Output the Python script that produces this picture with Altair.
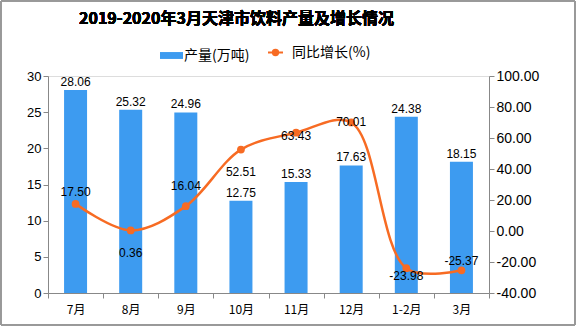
import altair as alt
import pandas as pd

months = ["7月", "8月", "9月", "10月", "11月", "12月", "1-2月", "3月"]
output = [28.06, 25.32, 24.96, 12.75, 15.33, 17.63, 24.38, 18.15]
growth = [17.50, 0.36, 16.04, 52.51, 63.43, 70.01, -23.98, -25.37]
# pixel offset of each growth label relative to its point (styling only)
growth_label_offset = [-12, 23, -20, 22, 3, 0, 8, -9]

PLOT_H = 217
R_MIN, R_MAX = -40, 100

df = pd.DataFrame({
    "month": months,
    "output": output,
    "growth": growth,
    "goff": growth_label_offset,
    "s1": "产量(万吨)",
    "s2": "同比增长(%)",
})

BLUE = "#3D9BF0"
ORANGE = "#F76B23"
FONT = "Liberation Sans"
CJK = "Noto Sans CJK SC"

x_axis = alt.Axis(labelAngle=0, tickBand="extent", labelFont=CJK,
                  labelFontSize=12, labelColor="#000", domainColor="#888",
                  tickColor="#888", tickSize=5, labelPadding=6, title=None)
x_scale = alt.Scale(paddingInner=0, paddingOuter=0)
xenc = alt.X("month:N", sort=months, title=None, scale=x_scale, axis=x_axis)

yl_axis = alt.Axis(values=[0, 5, 10, 15, 20, 25, 30], grid=False,
                   labelFont=FONT, labelFontSize=13, labelColor="#000",
                   domainColor="#888", tickColor="#888", tickSize=5,
                   labelOverlap=False, title=None)
yl_scale = alt.Scale(domain=[0, 30], nice=False)

yr_axis = alt.Axis(orient="right", values=[-40, -20, 0, 20, 40, 60, 80, 100],
                   format=".2f", grid=False, labelFont=FONT,
                   labelFontSize=14, labelColor="#000",
                   domainColor="#888", tickColor="#888", tickSize=5,
                   labelOverlap=False, title=None)
yr_scale = alt.Scale(domain=[R_MIN, R_MAX], nice=False)

base = alt.Chart(df)

bars = base.mark_bar(size=23, color=BLUE).encode(
    x=xenc,
    y=alt.Y("output:Q", title=None, scale=yl_scale, axis=yl_axis),
    fill=alt.Fill("s1:N", title=None,
                  scale=alt.Scale(domain=["产量(万吨)"], range=[BLUE]),
                  legend=alt.Legend(orient="none", legendX=112, legendY=-32,
                                    symbolType="M-1,-0.3H1V0.3H-1Z", symbolSize=529,
                                    symbolStrokeWidth=0, labelFont=CJK,
                                    labelFontSize=14, labelColor="#000",
                                    labelOffset=1)),
)

bar_text = base.mark_text(baseline="middle", dy=-8, font=FONT, fontSize=12,
                          color="#000").encode(
    x=xenc,
    y=alt.Y("output:Q", title=None, scale=yl_scale, axis=yl_axis),
    text=alt.Text("output:Q", format=".2f"),
)

border = base.mark_rect(fill=None, stroke="#999", strokeWidth=1).encode(
    x=alt.value(-47), x2=alt.value(527), y=alt.value(-75), y2=alt.value(249)
)

title = base.mark_text(text="2019-2020年3月天津市饮料产量及增长情况", align="left",
                       baseline="middle", font=CJK, fontSize=16, fontWeight="bold",
                       color="#000").encode(x=alt.value(31), y=alt.value(-57))

left = alt.layer(border, title, bars, bar_text)

yright = alt.Y("growth:Q", title=None, scale=yr_scale, axis=yr_axis)

line = base.mark_line(interpolate="catmull-rom", strokeWidth=2.5).encode(
    x=xenc,
    y=yright,
    stroke=alt.Stroke("s2:N", title=None,
                      scale=alt.Scale(domain=["同比增长(%)"], range=[ORANGE]),
                      legend=alt.Legend(orient="none", legendX=219, legendY=-32,
                                        symbolType="M-1,0H1M-0.36,0A0.36,0.36 0 1,0 0.36,0A0.36,0.36 0 1,0 -0.36,0",
                                        symbolSize=225, symbolStrokeWidth=2,
                                        symbolFillColor=ORANGE, labelFont=CJK,
                                        labelFontSize=14, labelColor="#000",
                                        labelOffset=8)),
)

points = base.mark_circle(size=60, color=ORANGE, opacity=1).encode(
    x=xenc,
    y=yright,
)

line_text = base.transform_calculate(
    ly=f"datum.growth - datum.goff * {R_MAX - R_MIN} / {PLOT_H}"
).mark_text(baseline="middle", font=FONT, fontSize=12, color="#000").encode(
    x=xenc,
    y=alt.Y("ly:Q", title=None, scale=yr_scale, axis=yr_axis),
    text=alt.Text("growth:Q", format=".2f"),
)

right = alt.layer(line, points, line_text)

chart = alt.layer(left, right).resolve_scale(
    y="independent", fill="independent", stroke="independent"
).properties(
    width=441, height=PLOT_H,
    autosize="none",
    padding={"left": 48, "top": 76, "right": 88, "bottom": 34},
).configure_view(stroke=None).configure(
    background="white",
    locale={"number": {"decimal": ".", "thousands": ",", "grouping": [3],
                       "currency": ["$", ""], "minus": "-"}},
)

chart.save("out.html", embed_options={"renderer": "svg", "actions": False})
